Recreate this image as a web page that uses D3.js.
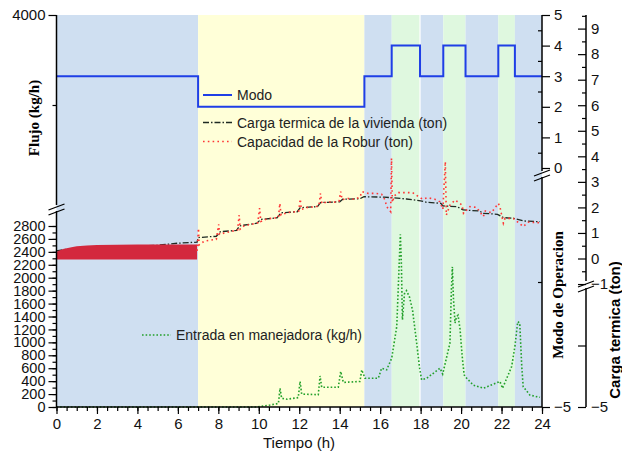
<!DOCTYPE html>
<head>
  <meta charset="utf-8">
  <title>Flujo y modo de operacion</title>
  <style>
    body { margin: 0; background: #fff; }
    .tick text { font-family: "Liberation Sans", Arial, sans-serif; font-size: 15px; fill: #111; }
    .leftTicks .tick text { font-size: 14.5px; }
    .tick line { stroke: #000; stroke-width: 1.2; }
    .lbl { font-family: "Liberation Sans", Arial, sans-serif; font-size: 14px; fill: #222; }
  </style>
</head>
<body>
<script src="https://cdn.jsdelivr.net/npm/d3@7"></script>
<script>
// modo de operacion (step) -- also defines the background bands
var modoT = [0, 7, 15.22, 16.57, 17.97, 19.12, 20.22, 21.84, 22.66, 24];
var modoV = [3, 2, 3, 4, 3, 4, 3, 4, 3];

// carga termica de la vivienda (ton)
var cargaT = [0, 0.5, 1, 2, 3, 4, 5, 6, 6.95, 7.0, 7.9, 8.1, 8.9, 9.05, 9.9, 10.1, 10.9, 11.1, 11.9, 12.05, 12.9, 13.05, 14.0, 14.15, 15.0, 15.2, 16.2, 16.6, 17.3, 18.0, 18.3, 19.0, 19.1, 19.8, 20.1, 20.9, 21.1, 21.8, 22.1, 22.6, 23.1, 23.9];
var cargaV = [0.3, 0.36, 0.4, 0.44, 0.46, 0.48, 0.52, 0.6, 0.64, 0.82, 0.87, 1.05, 1.1, 1.28, 1.38, 1.53, 1.59, 1.79, 1.83, 1.99, 2.03, 2.19, 2.22, 2.32, 2.34, 2.42, 2.40, 2.38, 2.33, 2.26, 2.20, 2.16, 2.06, 2.03, 1.90, 1.86, 1.77, 1.73, 1.60, 1.57, 1.47, 1.44];

// capacidad de la Robur (ton): on/off cycling envelope 0-7 h
var cicloT = [0, 0.1, 0.3, 0.5, 0.8, 1.0, 1.5, 2, 3, 4, 5, 6, 6.95];
var cicloMax = [0.25, 0.3, 0.36, 0.4, 0.45, 0.48, 0.51, 0.53, 0.54, 0.55, 0.55, 0.55, 0.55];
var cicloMin = [-0.04, -0.04, -0.04, -0.04, -0.04, -0.04, -0.04, -0.04, -0.04, -0.04, -0.04, -0.04, -0.04];

// capacidad de la Robur (ton) after 7 h
var robT = [6.95, 7.02, 7.05, 7.3, 7.6, 7.9, 8.02, 8.06, 8.3, 8.6, 8.95, 9.03, 9.08, 9.3, 9.6, 9.95, 10.04, 10.1, 10.4, 10.7, 10.97, 11.04, 11.1, 11.4, 11.7, 11.97, 12.05, 12.1, 12.4, 12.7, 12.97, 13.05, 13.12, 13.4, 13.7, 13.97, 14.05, 14.12, 14.4, 14.7, 15.0, 15.1, 15.4, 15.74, 16.07, 16.24, 16.32, 16.52, 16.56, 16.6, 16.7, 16.9, 17.2, 17.6, 17.9, 18.1, 18.35, 18.7, 18.95, 19.1, 19.22, 19.27, 19.45, 19.7, 19.9, 20.05, 20.12, 20.44, 20.77, 21.1, 21.2, 21.5, 21.84, 21.92, 22.09, 22.17, 22.58, 23.07, 23.32, 23.9];
var robV = [0.3, 1.18, 0.53, 0.68, 0.72, 0.75, 1.34, 0.95, 1.0, 1.05, 1.12, 1.70, 1.15, 1.3, 1.33, 1.4, 1.97, 1.45, 1.55, 1.58, 1.6, 2.16, 1.7, 1.8, 1.82, 1.85, 2.33, 1.92, 2.0, 2.02, 2.05, 2.55, 2.15, 2.22, 2.2, 2.25, 2.62, 2.3, 2.35, 2.32, 2.4, 2.62, 2.55, 2.55, 2.52, 2.29, 2.03, 1.83, 3.92, 2.2, 2.45, 2.58, 2.58, 2.58, 2.42, 2.32, 2.38, 2.32, 2.22, 1.93, 3.79, 1.70, 2.09, 2.29, 2.18, 2.09, 1.77, 2.03, 2.0, 1.64, 1.86, 1.79, 2.16, 2.03, 1.38, 1.57, 1.57, 1.25, 1.42, 1.40];

// entrada en manejadora (kg/h)
var entT = [0, 9.9, 10.55, 10.97, 11.05, 11.13, 11.4, 11.95, 12.04, 12.12, 12.94, 13.03, 13.11, 13.93, 14.05, 14.18, 15.0, 15.09, 15.25, 15.91, 16.07, 16.32, 16.57, 16.82, 16.95, 17.0, 17.05, 17.1, 17.2, 17.3, 17.45, 17.6, 17.8, 17.95, 18.05, 18.3, 18.96, 19.09, 19.45, 19.52, 19.57, 19.62, 19.7, 19.78, 19.85, 19.95, 20.05, 20.15, 20.2, 20.6, 21.1, 21.92, 22.05, 22.5, 22.66, 22.8, 22.9, 23.0, 23.07, 23.4, 23.74, 23.9];
var entV = [0, 0, 30, 55, 290, 135, 120, 145, 395, 200, 190, 480, 305, 305, 550, 380, 395, 575, 445, 445, 600, 575, 755, 1245, 2300, 2670, 2200, 1350, 1750, 1800, 1700, 1500, 1000, 600, 420, 445, 600, 510, 990, 1800, 2170, 1700, 1300, 1400, 1420, 1200, 800, 500, 470, 340, 290, 395, 290, 625, 935, 1320, 1300, 625, 315, 185, 160, 150];

// tick values
var xTicks = [0, 2, 4, 6, 8, 10, 12, 14, 16, 18, 20, 22, 24];
var flujoTicks = [0, 200, 400, 600, 800, 1000, 1200, 1400, 1600, 1800, 2000, 2200, 2400, 2600, 2800];
var modoTicks = [0, 1, 2, 3, 4, 5];
var cargaTicks = [-1, 0, 1, 2, 3, 4, 5, 6, 7, 8, 9];

var W = 622, H = 455;
var pLeft = 56.5, pRight = 542, pTop = 15, pBottom = 407;

var svg = d3.select("body").append("svg")
  .attr("width", W)
  .attr("height", H);

// scales
var x = d3.scaleLinear().domain([0, 24]).range([pLeft, pRight]);
var yFlujo = d3.scaleLinear().domain([0, 2800]).range([pBottom, 226]);
var yFlujoTop = d3.scaleLinear().domain([3500, 4000]).range([105, pTop]);
var yModo = d3.scaleLinear().domain([0, 5]).range([168, pTop]);
var yModoBot = d3.scaleLinear().domain([-5, 0]).range([pBottom, 157]);
var yCarga = d3.scaleLinear().domain([0, 9]).range([258.5, 28.6]);
var yCargaBot = d3.scaleLinear().domain([-5, -1]).range([pBottom, 284]);

var bandColor = { 2: "#ffffd8", 3: "#cfdff1", 4: "#dff8df" };

// background bands by modo
svg.append("g").selectAll("rect")
  .data(modoV)
  .enter().append("rect")
  .attr("x", function (d, i) { return x(modoT[i]); })
  .attr("width", function (d, i) { return x(modoT[i + 1]) - x(modoT[i]); })
  .attr("y", pTop)
  .attr("height", pBottom - pTop)
  .attr("fill", function (d) { return bandColor[d]; });

svg.append("line")
  .attr("x1", x(17.97)).attr("x2", x(17.97))
  .attr("y1", pTop).attr("y2", pBottom)
  .attr("stroke", "#fff").attr("stroke-width", 1.2);

function lineOf(ts, scale) {
  return d3.line()
    .x(function (d, i) { return x(ts[i]); })
    .y(function (d) { return scale(d); });
}

// entrada en manejadora
svg.append("path")
  .datum(entV)
  .attr("d", lineOf(entT, yFlujo))
  .attr("fill", "none")
  .attr("stroke", "#23a02a")
  .attr("stroke-width", 1.6)
  .attr("stroke-dasharray", "1.6,2");

// carga termica
svg.append("path")
  .datum(cargaV)
  .attr("d", lineOf(cargaT, yCarga))
  .attr("fill", "none")
  .attr("stroke", "#1e2a22")
  .attr("stroke-width", 1.3)
  .attr("stroke-dasharray", "6,2,1.5,2");

// robur cycling band 0-7 h (drawn over the carga line, as in the source)
var band = d3.area()
  .x(function (d, i) { return x(cicloT[i]); })
  .y0(function (d, i) { return yCarga(cicloMin[i]); })
  .y1(function (d, i) { return yCarga(cicloMax[i]); });

svg.append("path")
  .datum(cicloT)
  .attr("d", band)
  .attr("fill", "#d3283d");

// capacidad robur
svg.append("path")
  .datum(robV)
  .attr("d", lineOf(robT, yCarga))
  .attr("fill", "none")
  .attr("stroke", "#ff3535")
  .attr("stroke-width", 1.6)
  .attr("stroke-dasharray", "1.6,3.2");

// modo step line
var modoPts = modoV.concat([modoV[modoV.length - 1]]);
svg.append("path")
  .datum(modoPts)
  .attr("d", d3.line()
    .curve(d3.curveStepAfter)
    .x(function (d, i) { return x(modoT[i]); })
    .y(function (d) { return yModo(d); }))
  .attr("fill", "none")
  .attr("stroke", "#1f3fe6")
  .attr("stroke-width", 2);

// ---- axes ----
function axisLine(x1, y1, x2, y2) {
  svg.append("line")
    .attr("x1", x1).attr("y1", y1).attr("x2", x2).attr("y2", y2)
    .attr("stroke", "#000").attr("stroke-width", 1.5);
}

function brk(cx, cy) {
  svg.append("path")
    .attr("d", "M" + (cx - 8) + "," + (cy + 2) + "L" + (cx + 8) + "," + (cy - 4) +
      "M" + (cx - 8) + "," + (cy + 7) + "L" + (cx + 8) + "," + (cy + 1))
    .attr("stroke", "#000").attr("stroke-width", 1.3).attr("fill", "none");
}

function noDomain(g) { g.select(".domain").remove(); }

// x axis
var xMinor = d3.range(0, 24.01, 0.5);
svg.append("g")
  .attr("transform", "translate(0," + pBottom + ")")
  .call(d3.axisBottom(x).tickValues(xMinor).tickSize(4).tickFormat(""))
  .call(noDomain);
svg.append("g")
  .attr("transform", "translate(0," + pBottom + ")")
  .call(d3.axisBottom(x).tickValues(xTicks).tickSize(7).tickPadding(4).tickFormat(d3.format("d")))
  .call(noDomain);
axisLine(pLeft, pBottom, pRight, pBottom);

// left axis (broken)
svg.append("g")
  .attr("transform", "translate(" + pLeft + ",0)")
  .call(d3.axisLeft(yFlujo).tickValues(d3.range(0, 2801, 100)).tickSize(4).tickFormat(""))
  .call(noDomain);
svg.append("g")
  .attr("class", "leftTicks")
  .attr("transform", "translate(" + pLeft + ",0)")
  .call(d3.axisLeft(yFlujo).tickValues(flujoTicks).tickSize(8).tickPadding(3).tickFormat(d3.format("d")))
  .call(noDomain);
svg.append("g")
  .attr("transform", "translate(" + pLeft + ",0)")
  .call(d3.axisLeft(yFlujoTop).tickValues([3500]).tickSize(4).tickFormat(""))
  .call(noDomain);
svg.append("g")
  .attr("transform", "translate(" + pLeft + ",0)")
  .call(d3.axisLeft(yFlujoTop).tickValues([4000]).tickSize(8).tickPadding(3).tickFormat(d3.format("d")))
  .call(noDomain);
axisLine(pLeft, pTop, pLeft, 205);
axisLine(pLeft, 211, pLeft, pBottom);
brk(pLeft, 208);

// inner right axis: modo de operacion
svg.append("g")
  .attr("transform", "translate(" + pRight + ",0)")
  .call(d3.axisLeft(yModo).tickValues(d3.range(0.5, 5, 1)).tickSize(4).tickFormat(""))
  .call(noDomain);
svg.append("g")
  .attr("transform", "translate(" + pRight + ",0)")
  .call(d3.axisRight(yModo).tickValues(modoTicks).tickSize(8).tickPadding(4).tickFormat(d3.format("d")))
  .call(noDomain);
svg.append("g")
  .attr("transform", "translate(" + pRight + ",0)")
  .call(d3.axisLeft(yModoBot).tickValues([-2.5]).tickSize(4).tickFormat(""))
  .call(noDomain);
svg.append("g")
  .attr("transform", "translate(" + pRight + ",0)")
  .call(d3.axisRight(yModoBot).tickValues([-5]).tickSize(8).tickPadding(4).tickFormat(d3.format("d")))
  .call(noDomain);
axisLine(pRight, pTop, pRight, 171);
axisLine(pRight, 177, pRight, pBottom);
brk(pRight, 174);

// outer right axis: carga termica
var outer = 586;
svg.append("g")
  .attr("transform", "translate(" + outer + ",0)")
  .call(d3.axisRight(yCarga).tickValues(d3.range(-0.5, 9.6, 1)).tickSizeInner(-4).tickSizeOuter(0).tickFormat(""))
  .call(noDomain);
svg.append("g")
  .attr("transform", "translate(" + outer + ",0)")
  .call(d3.axisRight(yCarga).tickValues(cargaTicks).tickSizeInner(-8).tickSizeOuter(0).tickPadding(5).tickFormat(d3.format("d")))
  .call(noDomain);
svg.append("g")
  .attr("transform", "translate(" + outer + ",0)")
  .call(d3.axisRight(yCargaBot).tickValues([-3]).tickSizeInner(-8).tickSizeOuter(0).tickFormat(""))
  .call(noDomain);
svg.append("g")
  .attr("transform", "translate(" + outer + ",0)")
  .call(d3.axisRight(yCargaBot).tickValues([-5]).tickSizeInner(-8).tickSizeOuter(0).tickPadding(5).tickFormat(d3.format("d")))
  .call(noDomain);
axisLine(outer, pTop, outer, 281);
axisLine(outer, 288, outer, pBottom);
brk(outer, 285);

// ---- titles ----
svg.append("text")
  .attr("x", 299).attr("y", 448)
  .attr("text-anchor", "middle")
  .style("font-family", "Liberation Sans, Arial, sans-serif")
  .style("font-size", "15px")
  .style("fill", "#111")
  .text("Tiempo (h)");

svg.append("text")
  .attr("transform", "translate(39,118) rotate(-90)")
  .attr("text-anchor", "middle")
  .style("font-family", "Liberation Serif, Times New Roman, serif")
  .style("font-weight", "bold")
  .style("font-size", "15px")
  .text("Flujo (kg/h)");

svg.append("text")
  .attr("transform", "translate(563,295) rotate(-90)")
  .attr("text-anchor", "middle")
  .style("font-family", "Liberation Serif, Times New Roman, serif")
  .style("font-weight", "bold")
  .style("font-size", "15px")
  .text("Modo de Operacion");

svg.append("text")
  .attr("transform", "translate(620,330) rotate(-90)")
  .attr("text-anchor", "middle")
  .style("font-family", "Liberation Sans, Arial, sans-serif")
  .style("font-weight", "bold")
  .style("font-size", "15px")
  .text("Carga termica (ton)");

// ---- legend ----
var legend = [
  { label: "Modo", color: "#1f3fe6", dash: null, w: 2, x: 203, y: 95 },
  { label: "Carga termica de la vivienda (ton)", color: "#1e2a22", dash: "6,2,1.5,2", w: 1.3, x: 203, y: 122.5 },
  { label: "Capacidad de la Robur (ton)", color: "#ff3535", dash: "1.6,3.2", w: 1.6, x: 203, y: 141.5 },
  { label: "Entrada en manejadora (kg/h)", color: "#23a02a", dash: "1.6,2", w: 1.6, x: 142, y: 335 }
];

var lg = svg.append("g").selectAll("g")
  .data(legend)
  .enter().append("g");

lg.append("line")
  .attr("x1", function (d) { return d.x; })
  .attr("x2", function (d) { return d.x + 29; })
  .attr("y1", function (d) { return d.y; })
  .attr("y2", function (d) { return d.y; })
  .attr("stroke", function (d) { return d.color; })
  .attr("stroke-width", function (d) { return d.w; })
  .attr("stroke-dasharray", function (d) { return d.dash; });

lg.append("text")
  .attr("class", "lbl")
  .attr("x", function (d) { return d.x + 34; })
  .attr("y", function (d) { return d.y + 5; })
  .text(function (d) { return d.label; });
</script>
</body>
